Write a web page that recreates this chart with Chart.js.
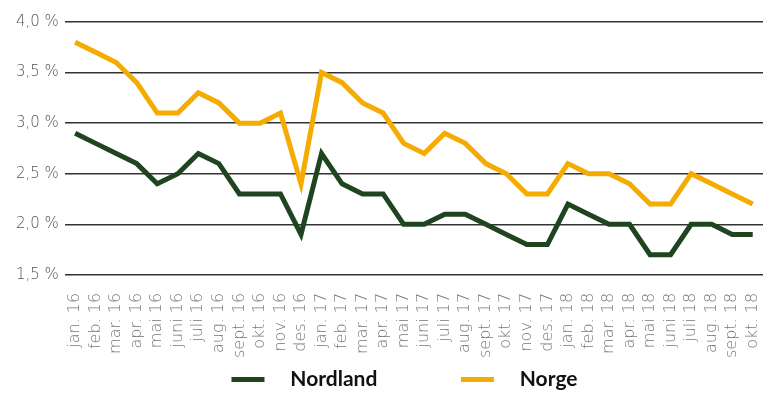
<!DOCTYPE html>
<html>
<head>
<meta charset="utf-8">
<script src="https://cdn.jsdelivr.net/npm/chart.js@4"></script>
<style>
  html, body { margin:0; padding:0; background:#fff; }
  #wrap { width:763px; height:405px; }
</style>
</head>
<body>
<div id="wrap"><canvas id="chart" width="763" height="405"></canvas></div>
<script>
// måneder jan. 16 - okt. 18
const months = ['jan. 16','feb. 16','mar. 16','apr. 16','mai 16','juni 16','juli 16','aug. 16','sept. 16','okt. 16','nov. 16','des. 16',
    'jan. 17','feb. 17','mar. 17','apr. 17','mai 17','juni 17','juli 17','aug. 17','sept. 17','okt. 17','nov. 17','des. 17',
    'jan. 18','feb. 18','mar. 18','apr. 18','mai 18','juni 18','juli 18','aug. 18','sept. 18','okt. 18'];

const nordland = [2.9,2.8,2.7,2.6,2.4,2.5,2.7,2.6,2.3,2.3,2.3,1.9,
    2.7,2.4,2.3,2.3,2.0,2.0,2.1,2.1,2.0,1.9,1.8,1.8,
    2.2,2.1,2.0,2.0,1.7,1.7,2.0,2.0,1.9,1.9];

const norge = [3.8,3.7,3.6,3.4,3.1,3.1,3.3,3.2,3.0,3.0,3.1,2.4,
    3.5,3.4,3.2,3.1,2.8,2.7,2.9,2.8,2.6,2.5,2.3,2.3,
    2.6,2.5,2.5,2.4,2.2,2.2,2.5,2.4,2.3,2.2];

const yMin = 1.5, yMax = 4.0, yStep = 0.5;

// flytter legenden litt mot høyre, som i originalen
const legendShift = {
    id:'legendShift',
    afterLayout(chart){
        chart.legend.left += 18;
        chart.legend.right += 18;
    }
};

const ctx = document.getElementById('chart').getContext('2d');
new Chart(ctx, {
    type:'line',
    data:{
        labels: months,
        datasets:[
            {label:'Nordland', data:nordland, borderColor:'#1f4420', backgroundColor:'#1f4420', borderWidth:5, pointRadius:0, tension:0},
            {label:'Norge', data:norge, borderColor:'#f5ab00', backgroundColor:'#f5ab00', borderWidth:5, pointRadius:0, tension:0}
        ]
    },
    options:{
        responsive:false,
        animation:false,
        layout:{padding:{left:10, right:0, top:22, bottom:5}},
        plugins:{
            tooltip:{enabled:false},
            legend:{
                position:'bottom',
                labels:{
                    boxWidth:33, boxHeight:5,
                    padding:2,
                    color:'#111',
                    font:{family:'Lato', size:21, weight:'bold'},
                    generateLabels: chart => Chart.defaults.plugins.legend.labels.generateLabels(chart)
                        .map((l, i) => Object.assign(l, {
                            text:'   ' + l.text + (i === 0 ? ' '.repeat(16) : ''),
                            lineWidth:0
                        }))
                }
            }
        },
        scales:{
            x:{
                offset:true,
                grid:{display:false, drawTicks:false},
                border:{display:false},
                afterFit: s => { s.paddingRight = 0; s.paddingLeft = 0; s.height -= 9; },
                ticks:{autoSkip:false, maxRotation:90, minRotation:90, padding:18, color:'#777',
                    font:{family:'DejaVu Sans', size:16, weight:'200'}}
            },
            y:{
                min:yMin, max:yMax,
                grid:{color:'#333', lineWidth:1.5, drawTicks:false},
                border:{display:false},
                ticks:{stepSize:yStep, padding:6, color:'#555',
                    font:{family:'DejaVu Sans', size:15, weight:'200'},
                    callback: v => v.toFixed(1).replace('.', ',') + ' %'}
            }
        }
    },
    plugins:[legendShift]
});
</script>
</body>
</html>
